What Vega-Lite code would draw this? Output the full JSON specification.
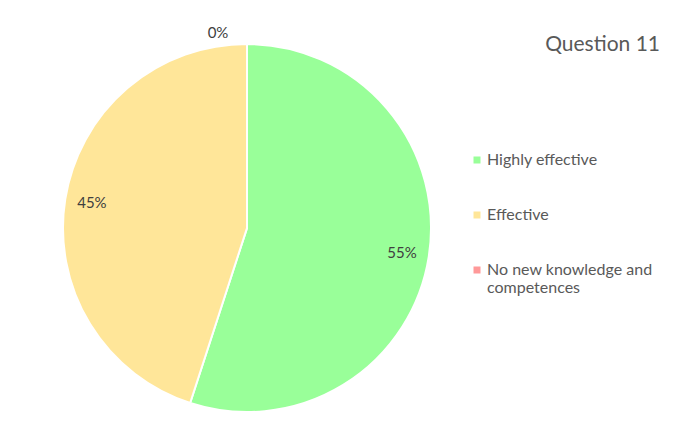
{
  "$schema": "https://vega.github.io/schema/vega-lite/v6.json",
  "width": 494,
  "height": 428,
  "autosize": {"type": "none"},
  "padding": {"top": 14, "left": 0, "right": 181, "bottom": 0},
  "background": "white",
  "config": {"view": {"stroke": null}, "font": "Lato"},
  "title": {
    "text": "Question 11",
    "anchor": "end",
    "frame": "group",
    "dx": 166,
    "offset": -41,
    "fontSize": 21,
    "fontWeight": "normal",
    "color": "#595959",
    "font": "Lato"
  },
  "data": {
    "values": [
      {"category": "Highly effective", "pct": 0.55, "rank": 1},
      {"category": "Effective", "pct": 0.45, "rank": 2},
      {"category": "No new knowledge and competences", "pct": 0, "rank": 3}
    ]
  },
  "encoding": {
    "theta": {"field": "pct", "type": "quantitative", "stack": true},
    "order": {"field": "rank", "type": "quantitative"}
  },
  "layer": [
    {
      "mark": {"type": "arc", "outerRadius": 184, "stroke": "white", "strokeWidth": 2},
      "encoding": {
        "color": {
          "field": "category",
          "type": "nominal",
          "scale": {
            "domain": ["Highly effective", "Effective", "No new knowledge and competences"],
            "range": ["#99ff99", "#ffe699", "#ff9999"]
          },
          "legend": {
            "orient": "none",
            "legendX": 469,
            "legendY": 138,
            "title": null,
            "symbolType": "square",
            "symbolSize": 49,
            "symbolStrokeWidth": 0,
            "labelFontSize": 16,
            "labelColor": "#595959",
            "labelFont": "Lato",
            "labelOffset": 2,
            "rowPadding": 39,
            "padding": 0,
            "labelLimit": 300,
            "labelExpr": "datum.label == 'No new knowledge and competences' ? ['No new knowledge and', 'competences'] : datum.label",
            "encode": {"labels": {"enter": {"lineHeight": {"value": 23}}, "update": {"lineHeight": {"value": 23}}}}
          }
        }
      }
    },
    {
      "transform": [{"filter": "datum.pct > 0"}],
      "mark": {"type": "text", "radius": 157, "fontSize": 15, "color": "#404040", "font": "Lato"},
      "encoding": {
        "text": {"field": "pct", "type": "quantitative", "format": ".0%"},
        "detail": {"field": "category"}
      }
    },
    {
      "transform": [{"filter": "datum.pct == 0"}],
      "mark": {"type": "text", "radius": 195, "dx": -29, "fontSize": 15, "color": "#404040", "font": "Lato"},
      "encoding": {
        "text": {"field": "pct", "type": "quantitative", "format": ".0%"},
        "detail": {"field": "category"}
      }
    }
  ]
}
